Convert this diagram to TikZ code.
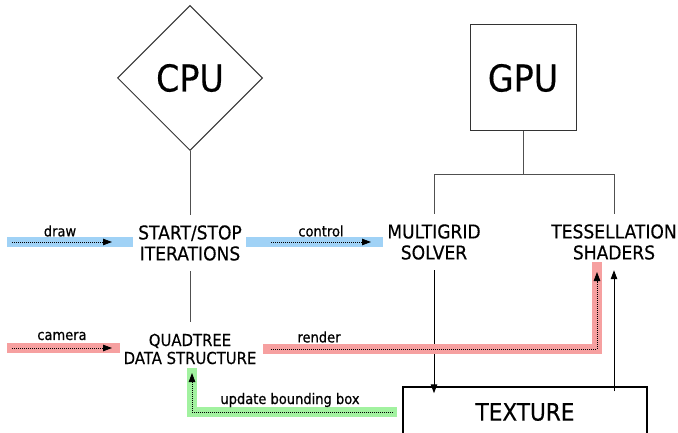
\documentclass[tikz,border=0pt]{standalone}
\usepackage{fontspec}
\setmainfont{DejaVu Sans}[FakeStretch=0.9]
\newfontfamily\lblfont{DejaVu Sans}[FakeStretch=0.9,FakeBold=0.6]
\newfontfamily\midfont{DejaVu Sans}[FakeStretch=0.9,FakeBold=0.4]
\usetikzlibrary{shapes.geometric,arrows.meta}
\definecolor{bandblue}{HTML}{A0D2F6}
\definecolor{bandred}{HTML}{F6A0A0}
\definecolor{bandgreen}{HTML}{A2F2A0}
\definecolor{conn}{HTML}{505050}
\tikzset{
  bigfont/.style={font=\midfont\fontsize{37}{40}\selectfont},
  midtext/.style={align=center,inner sep=0pt,font=\midfont\fontsize{19}{21}\selectfont},
  smalltext/.style={align=center,inner sep=0pt,font=\midfont\fontsize{16.5}{18}\selectfont},
  lbl/.style={inner sep=0pt,font=\lblfont\fontsize{14.5}{16}\selectfont},
  link/.style={draw=conn,line width=1pt},
  band/.style={line width=10pt,line cap=butt,line join=miter},
  flow/.style={line width=0.8pt,dash pattern=on 1pt off 1pt,-{Triangle[length=9pt,width=6.5pt]}},
  solidarrow/.style={line width=1pt,-{Triangle[length=9pt,width=6.5pt]}}
}
\begin{document}
\begin{tikzpicture}[x=1pt,y=-1pt]
\useasboundingbox (0,0) rectangle (678,433);
\clip (0,0) rectangle (678,433);
% main nodes
\node[diamond,draw=black!80,line width=1pt,minimum width=145pt,minimum height=145pt,inner sep=0pt,bigfont] (cpu) at (190,78) {CPU};
\node[rectangle,draw=black!80,line width=1pt,minimum width=106pt,minimum height=106pt,inner sep=0pt,bigfont] (gpu) at (523,78) {GPU};
\node[midtext,minimum height=56pt] (start) at (190,243) {START/STOP\\ITERATIONS};
\node[midtext,minimum height=56pt] (multi) at (434,242) {MULTIGRID\\SOLVER};
\node[midtext,minimum height=56pt] (tess) at (614,242) {TESSELLATION\\SHADERS};
\node[smalltext,minimum height=54pt] (quad) at (190,349) {QUADTREE\\DATA STRUCTURE};
\node[rectangle,draw=black,line width=1.5pt,minimum width=244pt,minimum height=56pt,inner sep=0pt] (texture) at (525,415) {};
\node[font=\midfont\fontsize{24}{26}\selectfont,inner sep=0pt] (texlabel) at (525,412) {TEXTURE};
% tree links
\draw[link] (cpu.south) -- (start.north);
\draw[link] (start.south) -- (quad.north);
\coordinate (gj) at (523,175);
\draw[link] (gpu.south) -- (gj);
\draw[link] (gj) -| (multi.north);
\draw[link] (gj) -| (tess.north);
% solid arrows
\draw[solidarrow] (multi.south) -- ([yshift=-7pt]multi.south |- texture.north);
\draw[solidarrow] ([yshift=-5pt]tess.south |- texture.north) -- (tess.south);
% draw band
\coordinate (d0) at (7,242); \coordinate (d1) at (133,242);
\coordinate (da) at (12,242); \coordinate (db) at (112,242);
\draw[band,bandblue] (d0) -- (d1);
\draw[flow] (da) -- (db);
\node[lbl] (ldraw) at (60,231) {draw};
% control band
\coordinate (c0) at (246,242); \coordinate (c1) at (383,242);
\coordinate (ca) at (271,242); \coordinate (cb) at (371,242);
\draw[band,bandblue] (c0) -- (c1);
\draw[flow] (ca) -- (cb);
\node[lbl] (lcontrol) at (321,231) {control};
% camera band
\coordinate (m0) at (7,348); \coordinate (m1) at (120,348);
\coordinate (ma) at (12,348); \coordinate (mb) at (112,348);
\draw[band,bandred] (m0) -- (m1);
\draw[flow] (ma) -- (mb);
\node[lbl] (lcamera) at (62,336) {camera};
% render band
\coordinate (r0) at (263,349); \coordinate (rc) at (597,349); \coordinate (r1) at (597,262);
\coordinate (ra) at (271,349); \coordinate (rb) at (597,272);
\draw[band,bandred] (r0) -- (rc) -- (r1);
\draw[flow] (ra) -- (rc) -- (rb);
\node[lbl] (lrender) at (319,337) {render};
% update band
\coordinate (u0) at (397,412); \coordinate (uc) at (192,412); \coordinate (u1) at (192,368);
\coordinate (ua) at (393,412); \coordinate (ub) at (192,373);
\draw[band,bandgreen] (u0) -- (uc) -- (u1);
\draw[flow] (ua) -- (uc) -- (ub);
\node[lbl] (lupdate) at (290,400) {update bounding box};
\end{tikzpicture}
\end{document}
